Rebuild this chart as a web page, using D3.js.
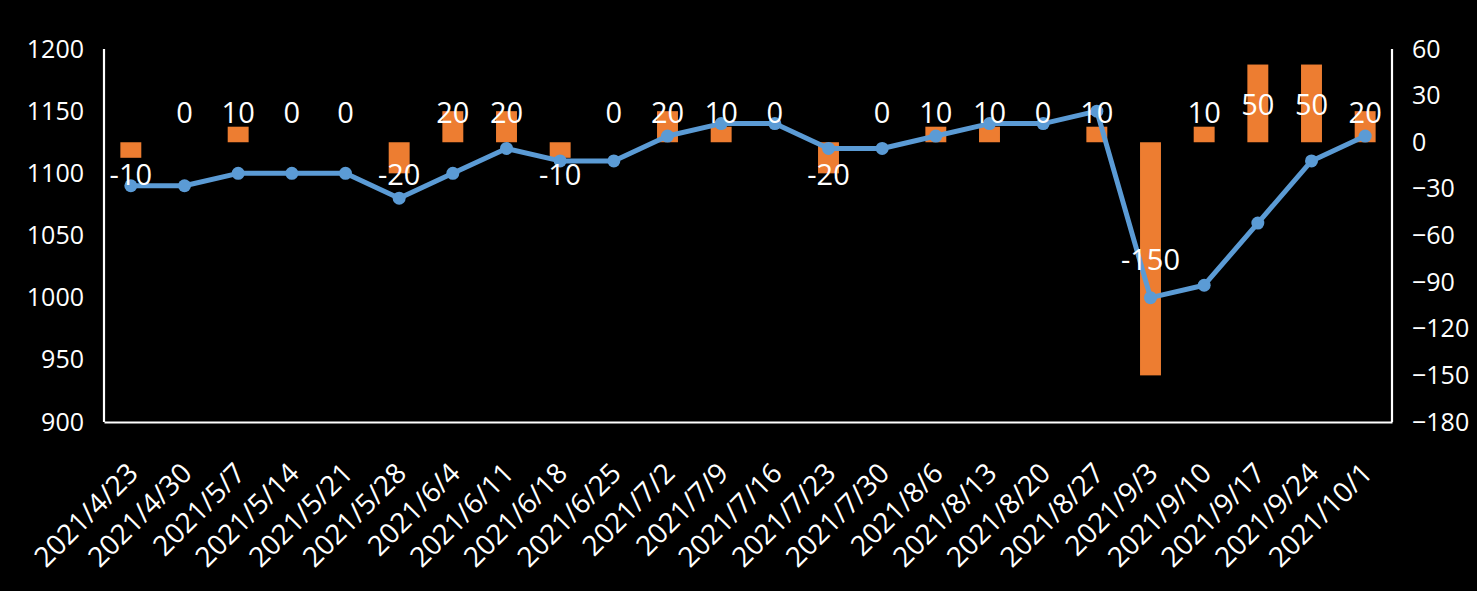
<!DOCTYPE html>
<html>
<head>
<meta charset="utf-8">
<script src="https://cdn.jsdelivr.net/npm/d3@7"></script>
<style>
  html, body { margin: 0; padding: 0; background: #000; }
  svg { display: block; }
  text { font-family: "Open Sans", "DejaVu Sans", sans-serif; fill: #fff; }
</style>
</head>
<body>
<div id="chart"></div>
<script>
const dates = ["2021/4/23","2021/4/30","2021/5/7","2021/5/14","2021/5/21","2021/5/28","2021/6/4","2021/6/11",
  "2021/6/18","2021/6/25","2021/7/2","2021/7/9","2021/7/16","2021/7/23","2021/7/30","2021/8/6",
  "2021/8/13","2021/8/20","2021/8/27","2021/9/3","2021/9/10","2021/9/17","2021/9/24","2021/10/1"];
const changes = [-10, 0, 10, 0, 0, -20, 20, 20, -10, 0, 20, 10, 0, -20, 0, 10, 10, 0, 10, -150, 10, 50, 50, 20];
const levels = [1090, 1090, 1100, 1100, 1100, 1080, 1100, 1120, 1110, 1110, 1130, 1140, 1140, 1120, 1120, 1130,
  1140, 1140, 1150, 1000, 1010, 1060, 1110, 1130];
const leftTicks = [900, 950, 1000, 1050, 1100, 1150, 1200];
const rightTicks = [-180, -150, -120, -90, -60, -30, 0, 30, 60];

const W = 1477, H = 591;
const plot = {left: 104, right: 1392, top: 49, bottom: 422};

const svg = d3.select("#chart").append("svg")
  .attr("width", W).attr("height", H);

svg.append("rect").attr("width", W).attr("height", H).attr("fill", "#000");

const x = d3.scaleBand().domain(dates).range([plot.left, plot.right]).paddingInner(0).paddingOuter(0);
const yL = d3.scaleLinear().domain([900, 1200]).range([plot.bottom, plot.top]);
const yR = d3.scaleLinear().domain([-180, 60]).range([plot.bottom, plot.top]);

const barW = x.bandwidth() * 0.39;
const cx = d => x(d) + x.bandwidth() / 2;

// bars (right axis)
svg.append("g").selectAll("rect")
  .data(changes)
  .join("rect")
  .attr("x", (d, i) => cx(dates[i]) - barW / 2)
  .attr("y", d => yR(Math.max(0, d)))
  .attr("width", barW)
  .attr("height", d => Math.abs(yR(d) - yR(0)))
  .attr("fill", "#ED7D31");

// line (left axis)
const line = d3.line()
  .x((d, i) => cx(dates[i]))
  .y(d => yL(d));

svg.append("path")
  .datum(levels)
  .attr("d", line)
  .attr("fill", "none")
  .attr("stroke", "#5B9BD5")
  .attr("stroke-width", 5)
  .attr("stroke-linejoin", "round");

svg.append("g").selectAll("circle")
  .data(levels)
  .join("circle")
  .attr("cx", (d, i) => cx(dates[i]))
  .attr("cy", d => yL(d))
  .attr("r", 6.5)
  .attr("fill", "#5B9BD5");

// axes
const axL = d3.axisLeft(yL).tickValues(leftTicks).tickFormat(d3.format("d")).tickSize(0).tickPadding(20);
const gL = svg.append("g").attr("transform", `translate(${plot.left},0)`).call(axL);

const axR = d3.axisRight(yR).tickValues(rightTicks).tickFormat(d3.format("d")).tickSize(0).tickPadding(20);
const gR = svg.append("g").attr("transform", `translate(${plot.right},0)`).call(axR);

const axB = d3.axisBottom(x).tickSize(0).tickSizeOuter(0).tickFormat(d => d);
const gB = svg.append("g").attr("transform", `translate(0,${plot.bottom})`).call(axB);

[gL, gR, gB].forEach(g => {
  g.select(".domain").attr("stroke", "#fff").attr("stroke-width", 2.2);
  g.selectAll("text").attr("fill", "#fff").style("font-size", "25px").attr("font-family", null);
});
gL.select(".domain").attr("d", `M0,${plot.top}V${plot.bottom}`);
gR.select(".domain").attr("d", `M0,${plot.top}V${plot.bottom}`);

gB.selectAll("text")
  .style("font-size", "28px")
  .attr("text-anchor", "end")
  .attr("dy", null)
  .attr("y", 0)
  .attr("transform", "translate(9,53) rotate(-45)");

// data labels
svg.append("g").selectAll("text")
  .data(changes)
  .join("text")
  .attr("x", (d, i) => cx(dates[i]))
  .attr("y", d => yR(d >= 0 ? Math.max(20, d / 2) : Math.min(-20, d / 2)))
  .attr("text-anchor", "middle")
  .attr("dominant-baseline", "central")
  .style("font-size", "29px")
  .text(d => d);
</script>
</body>
</html>
